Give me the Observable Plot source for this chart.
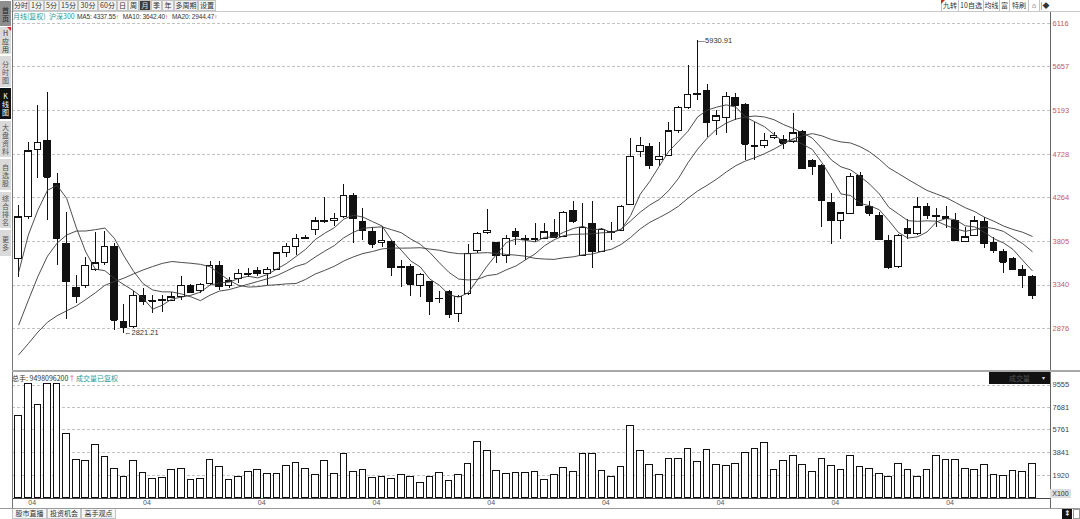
<!DOCTYPE html>
<html><head><meta charset="utf-8">
<script src="https://cdn.jsdelivr.net/npm/d3@7"></script>
<script src="https://cdn.jsdelivr.net/npm/@observablehq/plot@0.6"></script>
<style>
*{box-sizing:border-box;}
body{margin:0;background:#fff;font-family:"Liberation Sans","Noto Sans CJK SC",sans-serif;}
#root{position:relative;width:1080px;height:519px;overflow:hidden;background:#fff;}
#root svg{position:absolute;left:0;}
</style></head><body><div id="root"></div>
<script>
// ---- data ----
const months = [
"2015-03","2015-04","2015-05","2015-06","2015-07","2015-08","2015-09","2015-10","2015-11","2015-12",
"2016-01","2016-02","2016-03","2016-04","2016-05","2016-06","2016-07","2016-08","2016-09","2016-10","2016-11","2016-12",
"2017-01","2017-02","2017-03","2017-04","2017-05","2017-06","2017-07","2017-08","2017-09","2017-10","2017-11","2017-12",
"2018-01","2018-02","2018-03","2018-04","2018-05","2018-06","2018-07","2018-08","2018-09","2018-10","2018-11","2018-12",
"2019-01","2019-02","2019-03","2019-04","2019-05","2019-06","2019-07","2019-08","2019-09","2019-10","2019-11","2019-12",
"2020-01","2020-02","2020-03","2020-04","2020-05","2020-06","2020-07","2020-08","2020-09","2020-10","2020-11","2020-12",
"2021-01","2021-02","2021-03","2021-04","2021-05","2021-06","2021-07","2021-08","2021-09","2021-10","2021-11","2021-12",
"2022-01","2022-02","2022-03","2022-04","2022-05","2022-06","2022-07","2022-08","2022-09","2022-10","2022-11","2022-12",
"2023-01","2023-02","2023-03","2023-04","2023-05","2023-06","2023-07","2023-08","2023-09","2023-10","2023-11","2023-12",
"2024-01"];
const aprilTicks = ["2015-04","2016-04","2017-04","2018-04","2019-04","2020-04","2021-04","2022-04","2023-04"];
const aprilLabel = "04";

const open = [3618,4066,4773,4872,4413,3777,3306,3335,3501,3571,
3741,2953,2900,3222,3176,3183,3176,3218,3335,3282,3353,3547,
3335,3406,3452,3487,3452,3501,3677,3748,3830,3925,4020,4017,
4059,4289,4006,3900,3783,3794,3520,3536,3335,3370,3190,3271,
3035,3240,3706,3895,3783,3653,3907,3825,3819,3830,3889,3854,
4123,3653,3982,3695,3900,3918,4190,4748,4808,4667,4713,4978,
5219,5365,5395,5077,5113,5325,5250,4815,4819,4900,4879,4854,
4967,4653,4607,4208,4017,4095,4501,4172,4077,3812,3529,3929,
3876,4172,4068,4066,4024,3801,3865,4013,3788,3688,3618,3501,
3430];
const high = [4183,4854,5243,5384,4525,4112,3441,3635,3900,3911,
3777,3134,3275,3300,3229,3229,3264,3430,3345,3355,3593,3593,
3417,3501,3512,3529,3523,3690,3777,3876,3860,4059,4271,4095,
4406,4310,4148,3953,3947,3812,3600,3558,3465,3381,3275,3285,
3230,3770,3900,4137,3794,3865,3936,3865,3995,3995,4031,4115,
4229,4201,4229,3935,4006,4182,4890,4907,4840,4854,5066,5230,
5667,5930.91,5466,5190,5384,5374,5260,5066,4943,4960,4925,5155,
4980,4670,4620,4307,4110,4519,4536,4229,4112,3865,3880,4031,
4271,4201,4148,4172,4095,3953,4066,4059,3847,3713,3635,3547,
3440];
const low = [3423,4040,4466,4024,3547,2971,3147,3300,3480,3550,
2858,2821.21,2880,3123,3041,3052,3170,3176,3245,3250,3330,3282,
3300,3353,3423,3430,3335,3490,3628,3653,3820,3865,3989,3960,
4042,3783,3812,3724,3735,3430,3311,3218,3205,3017,3141,2982,
2946,3230,3671,3880,3571,3565,3759,3600,3794,3820,3840,3840,
3995,3640,3512,3680,3812,3910,4180,4695,4560,4600,4700,4950,
5200,5300,4907,4925,4943,5084,4660,4660,4784,4880,4773,4840,
4560,4501,3953,3770,3819,4090,4170,4066,3810,3510,3520,3819,
3870,4031,3953,3936,3805,3795,3850,3724,3677,3465,3500,3300,
3183];
const close = [4059,4759,4851,4483,3830,3377,3218,3547,3571,3748,
2964,2887,3229,3169,3170,3175,3211,3335,3264,3342,3544,3324,
3381,3459,3456,3459,3501,3677,3748,3830,3838,4017,4012,4042,
4289,4042,3918,3770,3812,3523,3526,3346,3448,3169,3196,3028,
3218,3671,3883,3918,3653,3830,3854,3819,3830,3897,3847,4106,
4017,3947,3695,3925,3895,4172,4702,4819,4607,4702,4970,5219,
5360,5355,5066,5130,5338,5243,4830,4808,4872,4925,4843,4950,
4572,4596,4236,4024,4101,4490,4183,4101,3819,3523,3865,3883,
4165,4077,4062,4042,3812,3847,4017,3777,3706,3582,3505,3441,
3229];
const volume = [6925,9660,7828,9660,9660,5439,3244,3102,4452,3465,
2485,1777,3102,2114,1642,1726,2401,2452,1498,1582,3244,2621,
1498,1835,2199,2342,2004,2060,2680,2992,2426,1920,3127,2004,
3752,2199,2401,1726,1777,1642,1920,1777,1304,1777,2148,1439,
1920,2907,4731,3946,2258,2060,2148,2148,2199,1498,1920,2570,
2199,3752,3752,2258,1835,2621,6056,3946,2764,1920,3325,3325,
4170,3045,4086,2820,2708,2907,3834,4170,4676,2401,3102,3550,
2764,2199,3325,2708,2401,3550,2621,2485,2060,1777,2907,2401,
1835,2401,3523,3186,3186,2485,2401,2820,1920,1861,2258,2199,
2907];
// closes before the first visible month (implied by where the MA lines start)
const priorCloses = [2409,2410,2394,2458,2331,2202,2178,2146,2158,2157,2165,2326,2338,2450,2508,2808,3533,3434,3572];

const priceTicks = [2876,3340,3805,4264,4728,5193,5657,6116];
const volTicks = [1920,3841,5761,7681,9555];

// ---- derived table ----
const all = priorCloses.concat(close);
const P = priorCloses.length;
const ma = n => close.map((_, i) => d3.mean(all.slice(i + P - n + 1, i + P + 1)));
const ma5 = ma(5), ma10 = ma(10), ma20 = ma(20);
const rows = months.map((m, i) => ({m, o: open[i], h: high[i], l: low[i], c: close[i], v: volume[i],
  up: close[i] >= open[i], ma5: ma5[i], ma10: ma10[i], ma20: ma20[i]}));
const hiRow = rows.filter(d => d.h === d3.max(high));
const loRow = rows.filter(d => d.l === d3.min(low));

const root = document.getElementById("root");
const FONT = '"Liberation Sans","Noto Sans CJK SC",sans-serif';
const xScale = {type: "band", domain: months, range: [12.1, 1037.9], padding: 0.3, axis: null};

const price = Plot.plot({
  width: 1080, height: 371,
  marginLeft: 12, marginRight: 30, marginTop: 12, marginBottom: 0,
  x: xScale,
  y: {domain: [2876, 6116], range: [328.3, 22.7], axis: null},
  style: {background: "transparent", fontFamily: FONT, overflow: "visible"},
  marks: [
    Plot.ruleY(priceTicks, {stroke: "#c2c2c2", strokeDasharray: "3,2", shapeRendering: "crispEdges"}),
    Plot.axisY(priceTicks, {anchor: "right", label: null, tickSize: 0, tickPadding: 2, fontSize: 7.5, fill: "#c65a5a", tickFormat: d => String(d)}),
    Plot.ruleX(rows, {x: "m", y1: "l", y2: "h", stroke: "#111", strokeWidth: 1, shapeRendering: "crispEdges"}),
    Plot.barY(rows.filter(d => d.up), {x: "m", y1: "o", y2: "c", fill: "#fff", stroke: "#111", strokeWidth: 1, shapeRendering: "crispEdges"}),
    Plot.barY(rows.filter(d => !d.up), {x: "m", y1: "o", y2: "c", fill: "#111", stroke: "#111", strokeWidth: 1, shapeRendering: "crispEdges"}),
    Plot.tickY(rows, {x: "m", y: "c", stroke: "#111", shapeRendering: "crispEdges"}),
    Plot.lineY(rows, {x: "m", y: "ma20", stroke: "#3a3a3a", strokeWidth: 0.9}),
    Plot.lineY(rows, {x: "m", y: "ma10", stroke: "#3a3a3a", strokeWidth: 0.9}),
    Plot.lineY(rows, {x: "m", y: "ma5", stroke: "#3a3a3a", strokeWidth: 0.9}),
    Plot.text(hiRow, {x: "m", y: "h", text: d => "—" + d.h, textAnchor: "start", fontSize: 7.5, fill: "#333"}),
    Plot.text(loRow, {x: "m", y: "l", text: d => "←" + d.l, textAnchor: "start", fontSize: 7.5, fill: "#333", dy: -1})
  ]
});
price.style.top = "0px";
root.appendChild(price);

const vol = Plot.plot({
  width: 1080, height: 137,
  marginLeft: 12, marginRight: 30, marginTop: 0, marginBottom: 10,
  x: xScale,
  y: {domain: [0, 9555], range: [126.75, 13.5], axis: null},
  style: {background: "transparent", fontFamily: FONT, overflow: "visible"},
  marks: [
    Plot.ruleY(volTicks, {stroke: "#c2c2c2", strokeDasharray: "3,2", shapeRendering: "crispEdges"}),
    Plot.axisY(volTicks, {anchor: "right", label: null, tickSize: 0, tickPadding: 2, fontSize: 7.5, fill: "#444", tickFormat: d => String(d)}),
    Plot.barY(rows, {x: "m", y: "v", fill: "#fff", stroke: "#111", strokeWidth: 1, shapeRendering: "crispEdges"}),
    Plot.ruleY([0], {stroke: "#444", shapeRendering: "crispEdges"}),
    Plot.axisX(aprilTicks, {anchor: "bottom", label: null, tickSize: 0, tickPadding: 2, fontSize: 7, fill: "#555", textAnchor: "start", tickFormat: () => aprilLabel})
  ]
});
vol.style.top = "371px";
root.appendChild(vol);

// ---- software chrome ----
function el(css, text, html) {
  const d = document.createElement("div");
  d.style.cssText = "position:absolute;white-space:nowrap;" + css;
  if (html) d.innerHTML = html; else if (text != null) d.textContent = text;
  root.appendChild(d); return d;
}
const CJK = 'font-family:"Noto Sans CJK SC","Liberation Sans",sans-serif;';
// frame lines
el("left:0;top:11px;width:1080px;height:1px;background:#c8c8c8;");
el("left:12px;top:0;width:1px;height:508px;background:#777;");
el("left:1050px;top:12px;width:1px;height:496px;background:#666;");
el("left:12px;top:370px;width:1068px;height:2px;background:#a8a8a8;");
el("left:0;top:508px;width:1080px;height:1px;background:#999;");

// top toolbar
const tb = [["分时",13,16],["1分",29,15],["5分",44,15],["15分",59,19],["30分",78,20],["60分",98,19],["日",117,11],["周",128,11],["月",139,12],["季",151,11],["年",162,12],["多周期",174,24],["设置",198,18]];
tb.forEach(([t, x, w]) => {
  const act = t === "月";
  el(`left:${x}px;top:0;width:${w}px;height:11px;border:1px solid #c4c4c4;background:${act ? "#3c3c3c" : "#f2f2f2"};color:${act ? "#e8e8e8" : "#333"};font-size:7px;line-height:9px;text-align:center;${CJK}`, t);
});
const tr = [["九转",941,17],["10自选",958,25],["均线",983,16],["富",999,10],["特刷",1009,19],["⌂",1028,11],["|◆",1039,11]];
tr.forEach(([t, x, w]) => {
  el(`left:${x}px;top:0;width:${w}px;height:11px;border-left:1px solid #c4c4c4;color:#333;font-size:7px;line-height:11px;text-align:center;${CJK}`, t);
});
el("left:941px;top:0;width:0;height:0;border-top:4px solid #d22;border-right:4px solid transparent;");

// header line of price pane
el(`left:13px;top:12px;font-size:7px;line-height:9px;color:#1f9a9a;${CJK}`, "月线(复权)");
el(`left:49px;top:12px;font-size:7px;line-height:9px;color:#1f9a9a;${CJK}`, "沪深300");
const up = '<span style="color:#e03a3a">↑</span>';
el("left:77px;top:12px;font-size:6.5px;line-height:9px;color:#333;letter-spacing:-0.15px;", null,
  "MA5: 4337.55" + up + '<span style="margin-left:4px">MA10: 3642.40</span>' + up + '<span style="margin-left:4px">MA20: 2944.47</span>' + up);

// left sidebar (characters stacked one per line)
const sb = [["首页",1,25,"#8e8e8e","#1a1a1a"],["H应用",27,27,"#dadada","#333"],["分时图",56,31,"#dadada","#555"],["K线图",88,31,"#111","#fff"],
  ["大盘资料",121,36,"#dadada","#555"],["自选股",159,31,"#dadada","#555"],["综合排名",192,36,"#dadada","#555"],["更多",230,26,"#dadada","#555"]];
sb.forEach(([t, y, h, bg, fg]) => {
  el(`left:0;top:${y}px;width:11px;height:${h}px;background:${bg};color:${fg};font-size:7px;line-height:8px;display:flex;flex-direction:column;align-items:center;justify-content:center;${CJK}`,
    null, Array.from(t).map(c => `<span>${c}</span>`).join(""));
});
el("left:7px;top:27px;width:0;height:0;border-top:4px solid #d22;border-left:4px solid transparent;");

// volume header
el(`left:12px;top:374px;font-size:7px;line-height:9px;color:#333;${CJK}`, null, '总手: 9498096200<span style="color:#e03a3a">↑</span>');
el(`left:76px;top:374px;font-size:7px;line-height:9px;color:#1f9a9a;${CJK}`, "成交量已复权");
el(`left:989px;top:372px;width:61px;height:12px;background:#111;color:#555;font-size:7px;line-height:12px;text-align:center;${CJK}`, "成交量");
el("left:1042px;top:372px;font-size:6px;line-height:12px;color:#ddd;", "▾");
el("left:1050px;top:489px;width:21px;height:9px;background:#dedede;color:#333;font-size:7px;line-height:9px;text-align:center;", "X100");

// bottom tabs
[["股市直播",12,35],["投资机会",47,34],["高手观点",81,35]].forEach(([t, x, w]) => {
  el(`left:${x}px;top:509px;width:${w}px;height:10px;border:1px solid #c4c4c4;border-top:none;background:#f6f6f6;color:#333;font-size:7px;line-height:9px;text-align:center;${CJK}`, t);
});
el("left:1062px;top:509px;width:10px;height:10px;background:#111;color:#fff;font-size:8px;line-height:10px;text-align:center;", "⇞");
el("left:1073px;top:509px;width:7px;height:10px;border:1px solid #999;background:#fff;");
</script>
</body></html>
